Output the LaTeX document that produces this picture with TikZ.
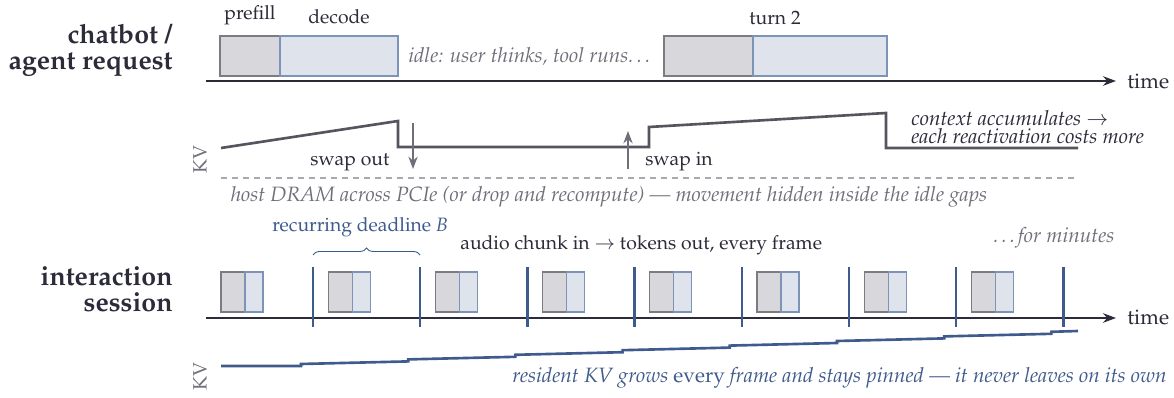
\documentclass[tikz,border=0pt]{standalone}
\usepackage[T1]{fontenc}
\usepackage{mathpazo}
\usepackage{tikz}
\usetikzlibrary{arrows.meta,positioning,calc,decorations.pathreplacing}
\definecolor{inkDark}{HTML}{2B2B3A}
\definecolor{inkGrey}{HTML}{6F6F7A}
\definecolor{inkBlue}{HTML}{3F5A8C}
\definecolor{kvGrey}{HTML}{55555F}
\definecolor{preFill}{HTML}{D8D7DB}
\definecolor{preLine}{HTML}{7C7B82}
\definecolor{decFill}{HTML}{DFE4EC}
\definecolor{decLine}{HTML}{7D93B8}
\definecolor{dashGrey}{HTML}{A8A8AE}

\begin{document}
\begin{tikzpicture}[x=0.2mm,y=-0.2mm,font=\fontsize{11}{13}\selectfont,>=Stealth,
  pre/.style={draw=preLine,fill=preFill,line width=0.7pt,inner sep=0pt,outer sep=0pt},
  dec/.style={draw=decLine,fill=decFill,line width=0.7pt,inner sep=0pt,outer sep=0pt},
  axis/.style={draw=inkDark,line width=1.1pt,-{Stealth[length=2.6mm,width=1.9mm]}},
  kvline/.style={line width=1.5pt,line join=miter},
  tick/.style={draw=inkBlue,line width=1.3pt},
  title/.style={font=\fontsize{15.2}{14.8}\selectfont\bfseries,text=inkDark,align=right,anchor=east,inner sep=0pt},
  note/.style={font=\fontsize{11.8}{14}\selectfont\itshape,text=inkGrey,inner sep=0pt}]
\useasboundingbox (0,0) rectangle (1174,398);

% chatbot / agent request
\node[title] (t1) at (173,50) {chatbot /\\agent request};
\node[pre,anchor=north west,minimum width=12mm,minimum height=8mm] (p1) at (220,36) {};
\node[dec,right=0pt of p1,minimum width=23.6mm,minimum height=8mm] (d1) {};
\node[pre,anchor=north west,minimum width=17.8mm,minimum height=8mm] (p2) at (664,36) {};
\node[dec,right=0pt of p2,minimum width=26.8mm,minimum height=8mm] (d2) {};
\node[text=inkDark,anchor=base,inner sep=0pt] (lpre) at (250,20) {prefill};
\node[text=inkDark,anchor=base,inner sep=0pt] (ldec) at (339,24) {decode};
\node[text=inkDark,anchor=base,inner sep=0pt] (lturn) at (775,25) {turn 2};
\node[note,anchor=base west] (idle) at (408,63) {idle: user thinks, tool runs\dots};
\coordinate (a1) at (206,81);
\coordinate (a1e) at (1116,81);
\draw[axis] (a1) -- (a1e);
\node[font=\fontsize{12}{14}\selectfont,text=inkDark,anchor=base west,inner sep=0pt] (time1) at (1127,89) {time};

% KV swapped out and back in
\node[text=inkGrey,rotate=90,inner sep=0pt] (kv1) at (200,160) {KV};
\draw[kvline,draw=kvGrey] (221,148) -- (398,121) -- (398,147) -- (649,147) -- (649,127)
  -- (886,113) -- (886,148) -- (1078,148);
\coordinate (so1) at (413,123);
\coordinate (so2) at (413,169);
\coordinate (si1) at (628,169);
\coordinate (si2) at (628,131);
\draw[->,draw=inkGrey,line width=0.9pt] (so1) -- (so2);
\draw[->,draw=inkGrey,line width=0.9pt] (si1) -- (si2);
\node[text=inkDark,anchor=base west,inner sep=0pt] (lso) at (310,166) {swap out};
\node[text=inkDark,anchor=base west,inner sep=0pt] (lsi) at (645,166) {swap in};
\node[font=\itshape\fontsize{11.8}{10.3}\selectfont,text=inkDark,align=left,anchor=north west,inner sep=0pt] (ctx)
  at (911,110) {context accumulates $\rightarrow$\\each reactivation costs more};
\coordinate (h1) at (221,178);
\coordinate (h2) at (1078,178);
\draw[draw=dashGrey,line width=0.6pt,dash pattern=on 1.2mm off 1mm] (h1) -- (h2);
\node[note,anchor=base] (host) at (609,202) {host DRAM across PCIe (or drop and recompute) --- movement hidden inside the idle gaps};

% interaction session
\node[title] (t2) at (173,289) {interaction\\session};
\node[text=inkBlue,anchor=base west,inner sep=0pt] (dl) at (272,232) {recurring deadline \textit{B}};
\node[text=inkDark,anchor=base west,inner sep=0pt] (chunk) at (460,250) {audio chunk in $\rightarrow$ tokens out, every frame};
\node[note,anchor=base west] (mins) at (993,243) {{\dots}for minutes};
\coordinate (a2) at (206,318);
\coordinate (a2e) at (1116,318);
\draw[axis] (a2) -- (a2e);
\node[font=\fontsize{12}{14}\selectfont,text=inkDark,anchor=base west,inner sep=0pt] (time2) at (1127,325) {time};
\foreach \k in {0,...,7} {
  \node[pre,anchor=north west,minimum width=4.8mm,minimum height=8mm] (fp\k) at ({221+107.2*\k},272) {};
  \node[dec,right=0pt of fp\k,minimum width=3.6mm,minimum height=8mm] (fd\k) {};
  \draw[tick] ({313+107.2*\k},267) -- ++(0,60);
}
\coordinate (b1) at (313,255);
\coordinate (b2) at (420,255);
\draw[draw=inkBlue,line width=0.5pt,decorate,decoration={brace,amplitude=4pt}] (b1) -- (b2);

\node[text=inkGrey,rotate=90,inner sep=0pt] (kv2) at (200,377) {KV};
\draw[kvline,draw=inkBlue] (221,366) -- (301,366)
  \foreach \k in {0,...,6} { -- ++(0,-2) -- ({301+107.2*(\k+1)},{366-4.6*(\k+1)}) }
  -- ++(0,-2) -- (1078,331);
\node[font=\fontsize{11.8}{14}\selectfont,text=inkBlue,anchor=base west,inner sep=0pt] (res) at (512,383)
  {\itshape resident KV grows \upshape every \itshape frame and stays pinned --- it never leaves on its own};
\end{tikzpicture}
\end{document}
